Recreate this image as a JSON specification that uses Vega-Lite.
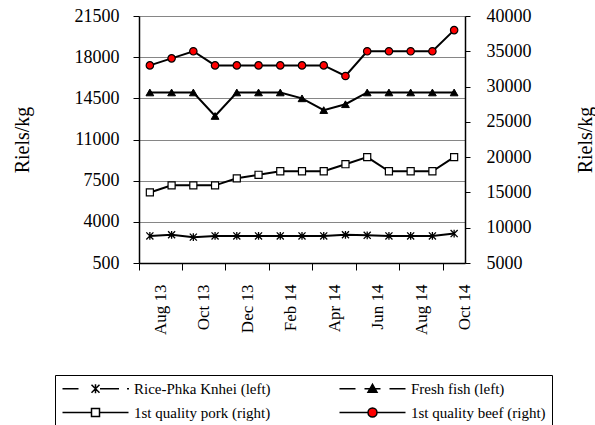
{
  "$schema": "https://vega.github.io/schema/vega-lite/v6.json",
  "width": 326,
  "height": 247,
  "autosize": {"type": "none"},
  "padding": {"left": 139, "top": 16, "right": 130, "bottom": 162},
  "background": "white",
  "config": {
    "view": {"stroke": null},
    "font": "Liberation Serif",
    "axis": {"labelFont": "Liberation Serif", "titleFont": "Liberation Serif", "labelColor": "black", "titleColor": "black", "titleFontWeight": "normal", "domainColor": "black", "tickColor": "black"},
    "legend": {"labelFont": "Liberation Serif", "labelColor": "black"}
  },
  "data": {"values": [
    {"month": "Aug 13", "series": "Rice-Phka Knhei (left)", "price": 2800},
    {"month": "Sep 13", "series": "Rice-Phka Knhei (left)", "price": 2900},
    {"month": "Oct 13", "series": "Rice-Phka Knhei (left)", "price": 2700},
    {"month": "Nov 13", "series": "Rice-Phka Knhei (left)", "price": 2800},
    {"month": "Dec 13", "series": "Rice-Phka Knhei (left)", "price": 2800},
    {"month": "Jan 14", "series": "Rice-Phka Knhei (left)", "price": 2800},
    {"month": "Feb 14", "series": "Rice-Phka Knhei (left)", "price": 2800},
    {"month": "Mar 14", "series": "Rice-Phka Knhei (left)", "price": 2800},
    {"month": "Apr 14", "series": "Rice-Phka Knhei (left)", "price": 2800},
    {"month": "May 14", "series": "Rice-Phka Knhei (left)", "price": 2900},
    {"month": "Jun 14", "series": "Rice-Phka Knhei (left)", "price": 2850},
    {"month": "Jul 14", "series": "Rice-Phka Knhei (left)", "price": 2800},
    {"month": "Aug 14", "series": "Rice-Phka Knhei (left)", "price": 2800},
    {"month": "Sep 14", "series": "Rice-Phka Knhei (left)", "price": 2800},
    {"month": "Oct 14", "series": "Rice-Phka Knhei (left)", "price": 3000},
    {"month": "Aug 13", "series": "Fresh fish (left)", "price": 15000},
    {"month": "Sep 13", "series": "Fresh fish (left)", "price": 15000},
    {"month": "Oct 13", "series": "Fresh fish (left)", "price": 15000},
    {"month": "Nov 13", "series": "Fresh fish (left)", "price": 13000},
    {"month": "Dec 13", "series": "Fresh fish (left)", "price": 15000},
    {"month": "Jan 14", "series": "Fresh fish (left)", "price": 15000},
    {"month": "Feb 14", "series": "Fresh fish (left)", "price": 15000},
    {"month": "Mar 14", "series": "Fresh fish (left)", "price": 14500},
    {"month": "Apr 14", "series": "Fresh fish (left)", "price": 13500},
    {"month": "May 14", "series": "Fresh fish (left)", "price": 14000},
    {"month": "Jun 14", "series": "Fresh fish (left)", "price": 15000},
    {"month": "Jul 14", "series": "Fresh fish (left)", "price": 15000},
    {"month": "Aug 14", "series": "Fresh fish (left)", "price": 15000},
    {"month": "Sep 14", "series": "Fresh fish (left)", "price": 15000},
    {"month": "Oct 14", "series": "Fresh fish (left)", "price": 15000},
    {"month": "Aug 13", "series": "1st quality pork (right)", "price": 15000},
    {"month": "Sep 13", "series": "1st quality pork (right)", "price": 16000},
    {"month": "Oct 13", "series": "1st quality pork (right)", "price": 16000},
    {"month": "Nov 13", "series": "1st quality pork (right)", "price": 16000},
    {"month": "Dec 13", "series": "1st quality pork (right)", "price": 17000},
    {"month": "Jan 14", "series": "1st quality pork (right)", "price": 17500},
    {"month": "Feb 14", "series": "1st quality pork (right)", "price": 18000},
    {"month": "Mar 14", "series": "1st quality pork (right)", "price": 18000},
    {"month": "Apr 14", "series": "1st quality pork (right)", "price": 18000},
    {"month": "May 14", "series": "1st quality pork (right)", "price": 19000},
    {"month": "Jun 14", "series": "1st quality pork (right)", "price": 20000},
    {"month": "Jul 14", "series": "1st quality pork (right)", "price": 18000},
    {"month": "Aug 14", "series": "1st quality pork (right)", "price": 18000},
    {"month": "Sep 14", "series": "1st quality pork (right)", "price": 18000},
    {"month": "Oct 14", "series": "1st quality pork (right)", "price": 20000},
    {"month": "Aug 13", "series": "1st quality beef (right)", "price": 33000},
    {"month": "Sep 13", "series": "1st quality beef (right)", "price": 34000},
    {"month": "Oct 13", "series": "1st quality beef (right)", "price": 35000},
    {"month": "Nov 13", "series": "1st quality beef (right)", "price": 33000},
    {"month": "Dec 13", "series": "1st quality beef (right)", "price": 33000},
    {"month": "Jan 14", "series": "1st quality beef (right)", "price": 33000},
    {"month": "Feb 14", "series": "1st quality beef (right)", "price": 33000},
    {"month": "Mar 14", "series": "1st quality beef (right)", "price": 33000},
    {"month": "Apr 14", "series": "1st quality beef (right)", "price": 33000},
    {"month": "May 14", "series": "1st quality beef (right)", "price": 31500},
    {"month": "Jun 14", "series": "1st quality beef (right)", "price": 35000},
    {"month": "Jul 14", "series": "1st quality beef (right)", "price": 35000},
    {"month": "Aug 14", "series": "1st quality beef (right)", "price": 35000},
    {"month": "Sep 14", "series": "1st quality beef (right)", "price": 35000},
    {"month": "Oct 14", "series": "1st quality beef (right)", "price": 38000}
  ]},
  "encoding": {
    "x": {
      "field": "month", "type": "ordinal",
      "sort": ["Aug 13","Sep 13","Oct 13","Nov 13","Dec 13","Jan 14","Feb 14","Mar 14","Apr 14","May 14","Jun 14","Jul 14","Aug 14","Sep 14","Oct 14"],
      "scale": {"type": "band", "paddingInner": 0, "paddingOuter": 0},
      "axis": {
        "title": null, "values": ["Aug 13","Oct 13","Dec 13","Feb 14","Apr 14","Jun 14","Aug 14","Oct 14"],
        "labelFont": "Liberation Serif", "labelColor": "black",
        "labelAngle": 270, "labelFontSize": 17, "bandPosition": 0, "labelOffset": 10.86,
        "tickSize": 7, "labelPadding": 14, "grid": false, "domainWidth": 1.5
      }
    }
  },
  "layer": [
    {
      "transform": [{"filter": "datum.series === 'Rice-Phka Knhei (left)' || datum.series === 'Fresh fish (left)'"}],
      "encoding": {
        "y": {
          "field": "price", "type": "quantitative",
          "scale": {"domain": [500, 21500], "nice": false, "zero": false},
          "axis": {
            "title": "Riels/kg", "titleFont": "Liberation Serif", "titleFontWeight": "normal", "titleColor": "black",
            "titleFontSize": 20, "titlePadding": 42,
            "values": [500, 4000, 7500, 11000, 14500, 18000, 21500], "format": "d",
            "labelFont": "Liberation Serif", "labelColor": "black",
            "labelFontSize": 18, "tickSize": 6, "labelPadding": 14,
            "grid": true, "gridColor": "#868686", "gridWidth": 1, "domainWidth": 1.5
          }
        }
      },
      "layer": [
        {"mark": {"type": "line", "color": "black", "strokeWidth": 2}, "encoding": {"detail": {"field": "series"}}},
        {
          "transform": [{"filter": "datum.series === 'Rice-Phka Knhei (left)'"}],
          "mark": {"type": "point", "shape": "M-1,-1L1,1M-1,1L1,-1M0,-1.1V1.1", "filled": false, "stroke": "black", "strokeWidth": 1.3, "opacity": 1, "size": 50},
          "encoding": {}
        },
        {
          "transform": [{"filter": "datum.series === 'Fresh fish (left)'"}],
          "mark": {"type": "point", "shape": "triangle-up", "filled": true, "fill": "black", "stroke": "black", "strokeWidth": 1, "opacity": 1, "size": 60},
          "encoding": {}
        }
      ]
    },
    {
      "transform": [{"filter": "datum.series === '1st quality pork (right)' || datum.series === '1st quality beef (right)'"}],
      "encoding": {
        "y": {
          "field": "price", "type": "quantitative",
          "scale": {"domain": [5000, 40000], "nice": false, "zero": false},
          "axis": {
            "orient": "right", "title": "Riels/kg", "titleFont": "Liberation Serif", "titleFontWeight": "normal", "titleColor": "black",
            "titleFontSize": 20, "titleAngle": 270, "titlePadding": 64,
            "values": [5000, 10000, 15000, 20000, 25000, 30000, 35000, 40000], "format": "d",
            "labelFont": "Liberation Serif", "labelColor": "black",
            "labelFontSize": 18, "tickSize": 5, "labelPadding": 16, "grid": false, "domainWidth": 1.5
          }
        }
      },
      "layer": [
        {"mark": {"type": "line", "color": "black", "strokeWidth": 2}, "encoding": {"detail": {"field": "series"}}},
        {
          "transform": [{"filter": "datum.series === '1st quality pork (right)'"}],
          "mark": {"type": "point", "shape": "square", "filled": true, "fill": "white", "stroke": "black", "strokeWidth": 1.2, "opacity": 1, "size": 50},
          "encoding": {}
        },
        {
          "transform": [{"filter": "datum.series === '1st quality beef (right)'"}],
          "mark": {"type": "point", "shape": "circle", "filled": true, "fill": "red", "stroke": "black", "strokeWidth": 1.2, "opacity": 1, "size": 55},
          "encoding": {}
        }
      ]
    },
    {
      "transform": [{"filter": "false"}],
      "mark": {"type": "point", "filled": true, "opacity": 1, "strokeWidth": 1.5},
      "encoding": {
        "shape": {
          "field": "series", "type": "nominal",
          "scale": {"domain": ["Rice-Phka Knhei (left)", "Fresh fish (left)", "1st quality pork (right)", "1st quality beef (right)"],
                    "range": [
                      "M-6.6,0H-3.4M-0.8,-0.8L0.8,0.8M-0.8,0.8L0.8,-0.8M0,-0.9V0.9M0.9,0H4.7M6.3,0H6.7",
                      "M-6.6,0H-3.4M-1.6,0H1.6M3.4,0H6.6M0,-0.9L0.9,0.7L-0.9,0.7Z",
                      "M-6.6,0H-0.8M0.8,0H6.6M-0.8,-0.8H0.8V0.8H-0.8Z",
                      "M-6.6,0H-0.9M0.9,0H6.6M0.9,0A0.9,0.9,0,1,1,-0.9,0A0.9,0.9,0,1,1,0.9,0Z"
                    ]},
          "legend": {
            "title": null, "orient": "none", "legendX": -84, "legendY": 359, "columns": 2, "direction": "horizontal",
            "padding": 6, "strokeColor": "black", "columnPadding": 65, "rowPadding": 8,
            "symbolSize": 100, "symbolOffset": 27, "labelOffset": 31, "symbolStrokeWidth": 1.5,
            "labelFont": "Liberation Serif", "labelFontSize": 15, "labelLimit": 0
          }
        },
        "fill": {
          "field": "series", "type": "nominal",
          "scale": {"domain": ["Rice-Phka Knhei (left)", "Fresh fish (left)", "1st quality pork (right)", "1st quality beef (right)"],
                    "range": ["black", "black", "white", "red"]},
          "legend": {
            "title": null, "orient": "none", "legendX": -84, "legendY": 359, "columns": 2, "direction": "horizontal",
            "padding": 6, "strokeColor": "black", "columnPadding": 65, "rowPadding": 8,
            "symbolSize": 100, "symbolOffset": 27, "labelOffset": 31, "symbolStrokeWidth": 1.5,
            "labelFont": "Liberation Serif", "labelFontSize": 15, "labelLimit": 0
          }
        },
        "stroke": {
          "field": "series", "type": "nominal",
          "scale": {"domain": ["Rice-Phka Knhei (left)", "Fresh fish (left)", "1st quality pork (right)", "1st quality beef (right)"],
                    "range": ["black", "black", "black", "black"]},
          "legend": {
            "title": null, "orient": "none", "legendX": -84, "legendY": 359, "columns": 2, "direction": "horizontal",
            "padding": 6, "strokeColor": "black", "columnPadding": 65, "rowPadding": 8,
            "symbolSize": 100, "symbolOffset": 27, "labelOffset": 31, "symbolStrokeWidth": 1.5,
            "labelFont": "Liberation Serif", "labelFontSize": 15, "labelLimit": 0
          }
        }
      }
    }
  ],
  "resolve": {"scale": {"y": "independent"}}
}
